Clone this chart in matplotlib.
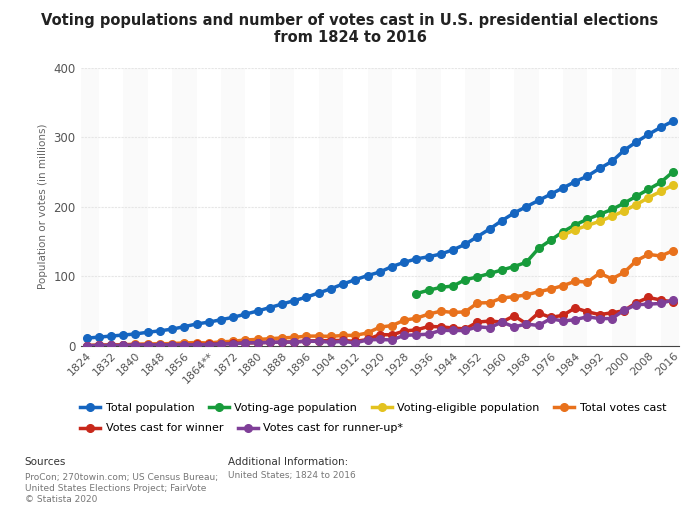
import numpy as np
import matplotlib
matplotlib.use("Agg")
import matplotlib.pyplot as plt

years = list(range(1824, 2017, 4))
total_pop = [11, 12.5, 14, 15.5, 17, 19.5, 21.5, 24, 27.5, 31.4, 34, 37.5, 41, 45.5, 50, 55, 60,
             65, 70, 76, 82, 89, 95, 101, 106, 114, 120, 125, 128, 132, 138, 146, 157, 168, 180,
             191, 200, 209, 218, 227, 236, 244, 255, 265, 281, 293, 304, 314, 323]
vap_years = list(range(1932, 2017, 4))
voting_age = [75, 80, 84, 86, 95, 99, 104, 109, 114, 120, 140, 152, 164, 174, 182, 189, 196,
              205, 215, 225, 235, 250]
vep_years = list(range(1980, 2017, 4))
voting_eligible = [159, 167, 173, 179, 186, 194, 203, 213, 222, 231]
total_votes = [0.37, 1.15, 1.25, 1.5, 2.4, 2.7, 2.9, 3.2, 4.1, 4.7, 4.0, 5.7, 6.5, 8.4, 9.2, 10.1,
               11.4, 12.1, 13.9, 14.0, 13.5, 14.9, 15.0, 18.5, 26.8, 29.1, 36.8, 39.7, 45.6, 49.8,
               47.9, 48.8, 61.6, 62.0, 68.8, 70.6, 73.2, 77.7, 81.6, 86.5, 92.7, 91.6, 104.4,
               96.3, 105.4, 122.3, 131.5, 129.1, 136.7]
winner = [0.11, 0.64, 0.70, 0.76, 1.27, 1.34, 1.36, 1.6, 1.84, 1.87, 2.2, 3.0, 3.6, 4.0, 4.45,
          4.9, 5.4, 5.55, 7.1, 7.2, 7.6, 7.7, 6.3, 9.1, 16.1, 15.7, 21.4, 22.8, 27.8, 27.3, 25.6,
          24.2, 34.1, 35.6, 34.2, 43.1, 31.8, 47.2, 40.8, 43.9, 54.5, 48.9, 44.9, 47.4, 50.5,
          62.0, 69.5, 65.9, 63.0]
runner_up = [0.15, 0.5, 0.53, 0.55, 1.13, 1.3, 1.22, 1.39, 1.34, 1.38, 1.8, 2.7, 2.8, 4.3, 4.44,
             4.85, 5.5, 5.2, 6.5, 6.4, 5.1, 6.4, 4.1, 8.5, 9.1, 8.4, 15.0, 15.8, 16.7, 22.3, 22.0,
             22.0, 27.3, 26.0, 34.1, 27.2, 31.3, 29.2, 39.1, 35.5, 37.6, 41.8, 39.1, 39.2, 51.0,
             59.0, 59.9, 60.9, 65.9]
tick_years = list(range(1824, 2017, 8))
tick_labels = [("1864**" if y == 1864 else str(y)) for y in tick_years]

series = [
    ("Total population", years, total_pop, "#1565c0"),
    ("Voting-age population", vap_years, voting_age, "#179b3b"),
    ("Voting-eligible population", vep_years, voting_eligible, "#e3c21f"),
    ("Total votes cast", years, total_votes, "#e8711c"),
    ("Votes cast for winner", years, winner, "#c8281b"),
    ("Votes cast for runner-up*", years, runner_up, "#7f3f98"),
]

fig = plt.figure(figsize=(7, 5.2), dpi=100)
ax = fig.add_axes([0.115, 0.335, 0.855, 0.535])

for i, y in enumerate(tick_years):
    if i % 2 == 0:
        ax.axvspan(y - 4, y + 4, color="#fafafa", zorder=0, lw=0)

for name, xs, ys, c in series:
    ax.plot(xs, ys, "-o", color=c, lw=2.5, ms=5.5, label=name, zorder=3)

ax.set_xlim(1822, 2018)
ax.set_ylim(0, 400)
ax.set_yticks([0, 100, 200, 300, 400])
ax.set_xticks(tick_years)
ax.set_xticklabels(tick_labels, rotation=45, ha="right", rotation_mode="anchor",
                   fontsize=8, color="#555555")
ax.tick_params(axis="y", labelsize=8.5, colors="#555555", length=0)
ax.tick_params(axis="x", length=0)
ax.grid(axis="y", color="#e6e6e6", lw=0.8, ls=(0, (2, 1)))
ax.set_axisbelow(True)
for s in ["top", "right", "left"]:
    ax.spines[s].set_visible(False)
ax.spines["bottom"].set_color("#444444")
ax.set_ylabel("Population or votes (in millions)", fontsize=7.5, color="#666666")

fig.suptitle("Voting populations and number of votes cast in U.S. presidential elections\nfrom 1824 to 2016",
             fontsize=10.5, fontweight="bold", color="#222222", y=0.975)

handles, labels = ax.get_legend_handles_labels()
fig.legend(handles[:4], labels[:4], loc="upper left", bbox_to_anchor=(0.1, 0.245), ncol=4,
           frameon=False, fontsize=8, handlelength=1.8, columnspacing=1.3, handletextpad=0.5)
fig.legend(handles[4:], labels[4:], loc="upper left", bbox_to_anchor=(0.1, 0.205), ncol=2,
           frameon=False, fontsize=8, handlelength=1.8, columnspacing=1.3, handletextpad=0.5)

fig.text(0.035, 0.105, "Sources", fontsize=7.5, color="#333333")
fig.text(0.035, 0.035, "ProCon; 270towin.com; US Census Bureau;\nUnited States Elections Project; FairVote\n© Statista 2020",
         fontsize=6.5, color="#777777", linespacing=1.3)
fig.text(0.325, 0.105, "Additional Information:", fontsize=7.5, color="#333333")
fig.text(0.325, 0.08, "United States; 1824 to 2016", fontsize=6.5, color="#777777")

fig.savefig("out.png", dpi=100, facecolor="white")
